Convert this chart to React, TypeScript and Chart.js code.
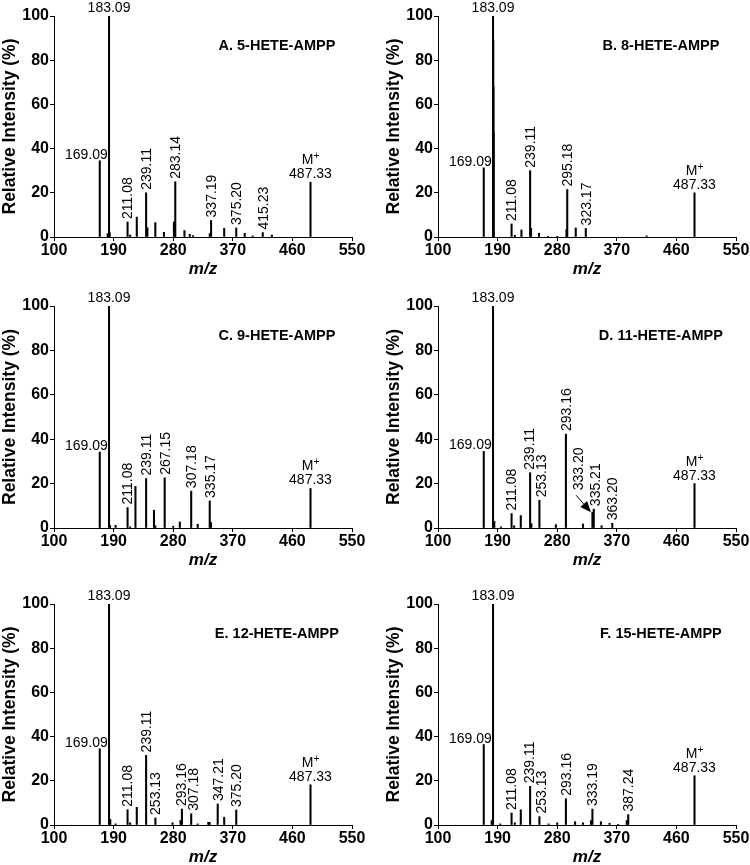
import React, { useEffect, useRef } from 'react';
import { Chart, registerables } from 'chart.js';

Chart.register(...registerables);

const FONT = '"Liberation Sans", Arial, Helvetica, sans-serif';

// Axis ticks
const xTicks = [100, 190, 280, 370, 460, 550];
const yTicks = [0, 20, 40, 60, 80, 100];

const titles = [
  'A. 5-HETE-AMPP',
  'B. 8-HETE-AMPP',
  'C. 9-HETE-AMPP',
  'D. 11-HETE-AMPP',
  'E. 12-HETE-AMPP',
  'F. 15-HETE-AMPP',
];

// Panel A
const mzA = [169.09, 181.1, 183.09, 184.1, 211.08, 215, 225, 239.11, 241, 253, 266, 281.1, 283.14, 297, 305, 310, 335.2, 337.19, 357, 375.2, 388, 400, 415.23, 429, 487.33];
const intA = [34.5, 1.5, 100, 2, 6.8, 0.9, 9, 20, 4.2, 6.5, 2.1, 6.8, 25, 2.9, 1.2, 0.6, 1.5, 7.5, 3.9, 4.1, 1.7, 0.5, 2, 0.9, 24.8];
const labA = [169.09, 183.09, 211.08, 239.11, 283.14, 337.19, 375.2, 415.23, 487.33];

// Panel B
const mzB = [169.09, 183.09, 183.4, 183.7, 184.0, 211.08, 216, 226, 239.11, 240.5, 252.5, 266, 280, 294, 295.18, 308, 323.17, 415, 487.33];
const intB = [31.3, 100, 89, 68, 47, 5.9, 0.8, 3.2, 30, 3.9, 1.7, 0.3, 0.3, 3.4, 21.5, 4.1, 3.9, 0.5, 20];
const labB = [169.09, 183.09, 211.08, 239.11, 295.18, 323.17, 487.33];

// Panel C
const mzC = [169.09, 183.09, 184.5, 193, 211.08, 215, 223, 239.11, 251, 253, 267.15, 280, 290, 307.18, 317, 335.17, 337, 487.33];
const intC = [34.2, 100, 1.2, 1.2, 9.2, 0.5, 18.7, 22.3, 8, 1.0, 22.6, 0.8, 2.7, 16.6, 1.7, 12.2, 2.5, 17.8];
const labC = [169.09, 183.09, 211.08, 239.11, 267.15, 307.18, 335.17, 487.33];

// Panel D
const mzD = [169.09, 183.09, 185, 195, 211.08, 215, 225, 239.11, 241, 253.13, 278, 293.16, 319, 333.2, 335.21, 347, 363.2, 487.33];
const intD = [34.5, 100, 3, 0.5, 6.5, 1, 5.6, 24.9, 2, 12.5, 1.5, 42.3, 1.8, 7, 8.5, 1, 2.1, 20];
const labD = [169.09, 183.09, 211.08, 239.11, 253.13, 293.16, 333.2, 335.21, 363.2, 487.33];

// Panel E
const mzE = [169.09, 183.09, 185, 193, 211.08, 215, 225, 239.11, 253.13, 279, 291, 293.16, 307.18, 317, 333, 335, 347.21, 357, 375.2, 487.33];
const intE = [34.5, 100, 2.5, 0.5, 6.9, 1, 8, 31.5, 3.2, 1, 2, 7.2, 5.1, 0.5, 1.2, 1.2, 9.5, 3.5, 6.8, 18.2];
const labE = [169.09, 183.09, 211.08, 239.11, 253.13, 293.16, 307.18, 347.21, 375.2, 487.33];

// Panel F
const mzF = [169.09, 181, 183.09, 194, 211.08, 216, 225, 239.11, 253.13, 267, 280, 293.16, 307, 319, 331, 333.19, 346, 359, 372, 385, 387.24, 487.33];
const intF = [36.4, 2, 100, 0.5, 5.4, 1, 6.9, 17.5, 3.8, 0.5, 1, 11.9, 1.5, 1, 2, 7.2, 1.5, 0.8, 0.3, 2, 4.7, 22.3];
const labF = [169.09, 183.09, 211.08, 239.11, 253.13, 293.16, 333.19, 387.24, 487.33];

// Annotation in panel D: shifted label for 333.20 with arrow (data coordinates)
const shiftedLabelD = { mz: 333.2, atMz: 313.7, atY: 17 };
const arrowD = { fromMz: 308.4, fromY: 14.8, toMz: 331, toY: 7.1 };

// Small horizontal nudges (px) for crowded vertical labels, per panel
const labelNudge: Record<number, Record<string, number>> = {
  3: { '239.11': -0.8, '253.13': 1.8, '335.21': 1 },
  4: { '307.18': 1.5, '293.16': -1.2 },
  5: { '239.11': -0.8, '253.13': 1.8 },
};

const panelData = [
  { mz: mzA, intensity: intA, labels: labA },
  { mz: mzB, intensity: intB, labels: labB },
  { mz: mzC, intensity: intC, labels: labC },
  { mz: mzD, intensity: intD, labels: labD },
  { mz: mzE, intensity: intE, labels: labE },
  { mz: mzF, intensity: intF, labels: labF },
];

// Layout (pixels)
const CANVAS_W = 375;
const CANVAS_H = 290;
const rowTop = [0, 290, 575];
const rowPlotTop = [16, 16, 29];
const rowPlotBottom = [237, 238, 250];
const colLeft = [0, 375];
const colPlotLeft = [54, 63];
const colPlotRight = [352, 361];
const LABEL_SIZE = 14;

const peakLabelPlugin = {
  id: 'peakLabels',
  afterDatasetsDraw(chart: any, _args: any, opts: any) {
    const { ctx, chartArea } = chart;
    const xs = chart.scales.x;
    const ys = chart.scales.y;
    const p = opts.panel;
    ctx.save();
    ctx.fillStyle = '#000';
    ctx.strokeStyle = '#000';

    // panel title
    ctx.font = `bold 14.5px ${FONT}`;
    ctx.textAlign = 'center';
    ctx.textBaseline = 'alphabetic';
    ctx.fillText(p.title, chartArea.left + (chartArea.right - chartArea.left) * 0.748, chartArea.top + 34);

    const lf = `${LABEL_SIZE}px ${FONT}`;
    ctx.font = lf;
    p.labels.forEach((m: number) => {
      const i = p.mz.indexOf(m);
      const h = p.intensity[i];
      const px = xs.getPixelForValue(m);
      const py = ys.getPixelForValue(h);
      const text = m.toFixed(2);
      if (m === 169.09) {
        ctx.textAlign = 'right';
        ctx.textBaseline = 'alphabetic';
        ctx.fillText(text, px + 8, py - 2);
      } else if (m === 183.09) {
        ctx.textAlign = 'center';
        ctx.textBaseline = 'alphabetic';
        ctx.fillText(text, px, py - 4.5);
      } else if (m === 487.33) {
        ctx.textAlign = 'center';
        ctx.textBaseline = 'alphabetic';
        ctx.fillText(text, px, py - 4);
        // M+ line
        const mW = ctx.measureText('M').width;
        ctx.font = `10px ${FONT}`;
        const plusW = ctx.measureText('+').width;
        const total = mW + plusW;
        ctx.font = lf;
        ctx.textAlign = 'left';
        ctx.fillText('M', px - total / 2, py - 18);
        ctx.font = `10px ${FONT}`;
        ctx.fillText('+', px - total / 2 + mW, py - 23);
        ctx.font = lf;
      } else {
        const nudge = (p.nudge && p.nudge[text]) || 0;
        let ax = px + 1 + nudge;
        let ay = py - 3;
        if (p.shifted && m === p.shifted.mz) {
          ax = xs.getPixelForValue(p.shifted.atMz);
          ay = ys.getPixelForValue(p.shifted.atY);
        }
        ctx.save();
        ctx.translate(ax, ay);
        ctx.rotate(-Math.PI / 2);
        ctx.textAlign = 'left';
        ctx.textBaseline = 'middle';
        ctx.fillText(text, 0, 0);
        ctx.restore();
      }
    });

    if (p.arrow) {
      const a = p.arrow;
      const x1 = xs.getPixelForValue(a.fromMz);
      const y1 = ys.getPixelForValue(a.fromY);
      const x2 = xs.getPixelForValue(a.toMz);
      const y2 = ys.getPixelForValue(a.toY);
      const ang = Math.atan2(y2 - y1, x2 - x1);
      const hl = 11;
      const hw = 4.5;
      ctx.lineWidth = 1;
      ctx.beginPath();
      ctx.moveTo(x1, y1);
      ctx.lineTo(x2 - hl * Math.cos(ang), y2 - hl * Math.sin(ang));
      ctx.stroke();
      ctx.beginPath();
      ctx.moveTo(x2, y2);
      ctx.lineTo(x2 - hl * Math.cos(ang) + hw * Math.sin(ang), y2 - hl * Math.sin(ang) - hw * Math.cos(ang));
      ctx.lineTo(x2 - hl * Math.cos(ang) - hw * Math.sin(ang), y2 - hl * Math.sin(ang) + hw * Math.cos(ang));
      ctx.closePath();
      ctx.fill();
    }
    ctx.restore();
  },
};

function Panel({ index }: { index: number }) {
  const ref = useRef<HTMLCanvasElement | null>(null);
  const row = Math.floor(index / 2);
  const col = index % 2;
  useEffect(() => {
    const canvas = ref.current;
    if (!canvas) return;
    const d = panelData[index];
    const plotTop = rowPlotTop[row];
    const plotBottom = rowPlotBottom[row];
    const plotLeft = colPlotLeft[col];
    const plotRight = colPlotRight[col];
    const xTitleFont = { family: FONT, size: 17, weight: 'bold' as const, style: 'italic' as const, lineHeight: 1.2 };
    const xTitleCenter = plotBottom + 32;
    const xTitlePad = CANVAS_H - xTitleCenter - (17 * 1.2) / 2;
    const yTitleCenter = col === 0 ? 10 : 19.5;
    const yTitlePad = yTitleCenter - (17.5 * 1.2) / 2;

    const chart = new Chart(canvas, {
      type: 'bar',
      data: {
        datasets: [
          {
            data: d.mz.map((m, i) => ({ x: m, y: d.intensity[i] })),
            backgroundColor: '#000',
            borderWidth: 0,
            barThickness: 1.4,
          } as any,
        ],
      },
      options: {
        animation: false,
        responsive: false,
        maintainAspectRatio: false,
        events: [],
        layout: { padding: { top: plotTop, left: 0, right: CANVAS_W - plotRight, bottom: 0 } },
        plugins: {
          legend: { display: false },
          tooltip: { enabled: false },
          peakLabels: {
            panel: {
              title: titles[index],
              mz: d.mz,
              intensity: d.intensity,
              labels: d.labels,
              nudge: labelNudge[index] || null,
              shifted: index === 3 ? shiftedLabelD : null,
              arrow: index === 3 ? arrowD : null,
            },
          },
        } as any,
        scales: {
          x: {
            type: 'linear',
            min: xTicks[0],
            max: xTicks[xTicks.length - 1],
            offset: false,
            afterBuildTicks: (s: any) => {
              s.ticks = xTicks.map((v) => ({ value: v }));
            },
            afterFit: (s: any) => {
              s.height = CANVAS_H - plotBottom;
            },
            ticks: {
              font: { family: FONT, size: 16, weight: 'bold' },
              color: '#000',
              padding: 0,
              maxRotation: 0,
              autoSkip: false,
            },
            grid: {
              display: true,
              drawOnChartArea: false,
              drawTicks: true,
              tickLength: 4,
              color: '#000',
              lineWidth: 1,
              offset: false,
            },
            border: { display: true, color: '#000', width: 1 },
            title: {
              display: true,
              text: 'm/z',
              font: xTitleFont,
              color: '#000',
              padding: { top: 0, bottom: xTitlePad },
            },
          } as any,
          y: {
            type: 'linear',
            min: yTicks[0],
            max: yTicks[yTicks.length - 1],
            afterBuildTicks: (s: any) => {
              s.ticks = yTicks.map((v) => ({ value: v }));
            },
            afterFit: (s: any) => {
              s.width = plotLeft;
            },
            ticks: {
              font: { family: FONT, size: 16, weight: 'bold' },
              color: '#000',
              padding: 1,
              autoSkip: false,
            },
            grid: {
              display: true,
              drawOnChartArea: false,
              drawTicks: true,
              tickLength: 4,
              color: '#000',
              lineWidth: 1,
            },
            border: { display: true, color: '#000', width: 1 },
            title: {
              display: true,
              text: 'Relative Intensity (%)',
              font: { family: FONT, size: 17.5, weight: 'bold', lineHeight: 1.2 },
              color: '#000',
              padding: { top: yTitlePad, bottom: 0 },
            },
          } as any,
        },
      },
      plugins: [peakLabelPlugin as any],
    });
    return () => chart.destroy();
  }, [index, row, col]);

  return (
    <canvas
      ref={ref}
      width={CANVAS_W}
      height={CANVAS_H}
      style={{
        position: 'absolute',
        left: colLeft[col],
        top: rowTop[row],
        width: CANVAS_W,
        height: CANVAS_H,
        display: 'block',
      }}
    />
  );
}

export default function App() {
  return (
    <div
      style={{
        position: 'absolute',
        left: 0,
        top: 0,
        width: 750,
        height: 865,
        background: '#fff',
        overflow: 'hidden',
      }}
    >
      {[0, 1, 2, 3, 4, 5].map((i) => (
        <Panel key={i} index={i} />
      ))}
    </div>
  );
}
